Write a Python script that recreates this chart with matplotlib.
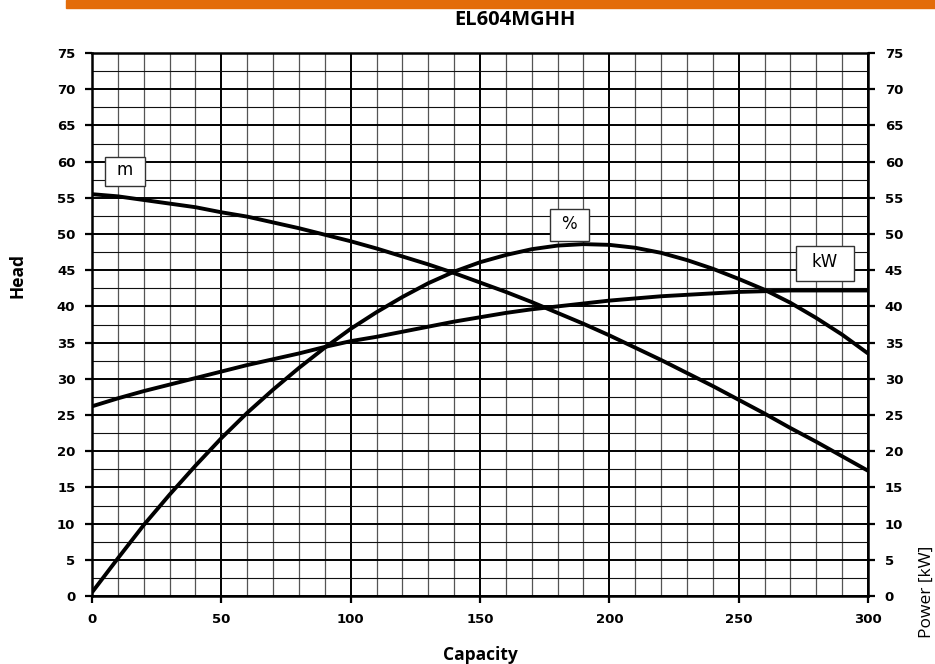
import matplotlib
matplotlib.use("Agg")
import matplotlib.pyplot as plt
from matplotlib.ticker import MultipleLocator
from matplotlib.patches import Rectangle

title = "EL604MGHH"
capacity = [0, 10, 20, 30, 40, 50, 60, 70, 80, 90, 100, 110, 120, 130, 140, 150,
            160, 170, 180, 190, 200, 210, 220, 230, 240, 250, 260, 270, 280, 290, 300]
head_m = [55.5, 55.2, 54.7, 54.2, 53.7, 53.0, 52.4, 51.6, 50.8, 49.9, 49.0, 48.0,
          46.9, 45.8, 44.6, 43.3, 42.0, 40.6, 39.1, 37.6, 36.0, 34.3, 32.6, 30.8,
          29.0, 27.1, 25.2, 23.2, 21.3, 19.3, 17.3]
efficiency_pct = [0.5, 5.2, 9.8, 14.0, 18.0, 21.8, 25.3, 28.5, 31.5, 34.3, 36.9, 39.2,
                  41.3, 43.2, 44.8, 46.1, 47.1, 47.9, 48.4, 48.6, 48.5, 48.1, 47.4,
                  46.4, 45.2, 43.8, 42.3, 40.5, 38.4, 36.1, 33.5]
power_kw = [26.2, 27.3, 28.3, 29.2, 30.1, 31.0, 31.9, 32.7, 33.5, 34.4, 35.2, 35.8,
            36.5, 37.2, 37.9, 38.5, 39.1, 39.6, 40.0, 40.4, 40.8, 41.1, 41.4, 41.6,
            41.8, 42.0, 42.1, 42.2, 42.2, 42.2, 42.2]
curve_labels = ["m", "%", "kW"]

fig = plt.figure(figsize=(9.35, 6.64), dpi=100)
# orange band at top
fig.patches.append(Rectangle((66/935, 1 - 8/664), 1 - 66/935, 8/664,
                             transform=fig.transFigure, color="#E36C0A", zorder=0))

ax = fig.add_axes([92/935, 68/664, 776/935, 543/664])
ax.set_xlim(0, 300)
ax.set_ylim(0, 75)

ax.xaxis.set_major_locator(MultipleLocator(50))
ax.xaxis.set_minor_locator(MultipleLocator(10))
ax.yaxis.set_major_locator(MultipleLocator(5))
ax.yaxis.set_minor_locator(MultipleLocator(2.5))
ax.grid(which="minor", axis="x", color="#555555", lw=0.9)
ax.grid(which="minor", axis="y", color="#111111", lw=0.8)
ax.grid(which="major", color="black", lw=1.4)
ax.set_axisbelow(True)

for s in ax.spines.values():
    s.set_linewidth(1.8)

ax.tick_params(which="major", direction="out", length=5, width=1.6, labelsize=9.5, pad=7)
ax.tick_params(which="minor", length=0)
for lbl in ax.get_xticklabels() + ax.get_yticklabels():
    lbl.set_fontweight("bold")

ax2 = ax.twinx()
ax2.set_ylim(0, 75)
ax2.yaxis.set_major_locator(MultipleLocator(5))
ax2.tick_params(direction="out", length=5, width=1.6, labelsize=9.5, pad=7)
for lbl in ax2.get_yticklabels():
    lbl.set_fontweight("bold")
for s in ax2.spines.values():
    s.set_visible(False)

ax.plot(capacity, head_m, color="black", lw=2.8, solid_capstyle="butt", zorder=5)
ax.plot(capacity, efficiency_pct, color="black", lw=2.8, solid_capstyle="butt", zorder=5)
ax2.plot(capacity, power_kw, color="black", lw=2.8, solid_capstyle="butt", zorder=5)

# label boxes (x0, y0, width, height) in data units
boxes = [(5, 56.6, 15.5, 4.0), (177, 49.0, 15, 4.45), (272, 43.5, 22.5, 4.8)]
for (bx, by, bw, bh), lab in zip(boxes, curve_labels):
    ax.add_patch(Rectangle((bx, by), bw, bh, fc="white", ec="#333333", lw=1.0, zorder=6))
    ax.text(bx + bw / 2, by + bh / 2 + 0.2, lab, ha="center", va="center",
            fontsize=12, zorder=7)

fig.text(515/935, 1 - 20/664, title, ha="center", va="center", fontsize=14.5,
         fontweight="bold", family="Open Sans")
fig.text(18/935, 1 - 275/664, "Head", rotation=90, ha="center", va="center",
         fontsize=12.5, fontweight="bold", family="Open Sans")
fig.text(480/935, 1 - 655/664, "Capacity", ha="center", va="center",
         fontsize=12.5, fontweight="bold", family="Open Sans")
fig.text(927/935, 1 - 592/664, "Power [kW]", rotation=90, ha="center", va="center",
         fontsize=12.5, family="Open Sans")

fig.savefig("out.png", dpi=100)
